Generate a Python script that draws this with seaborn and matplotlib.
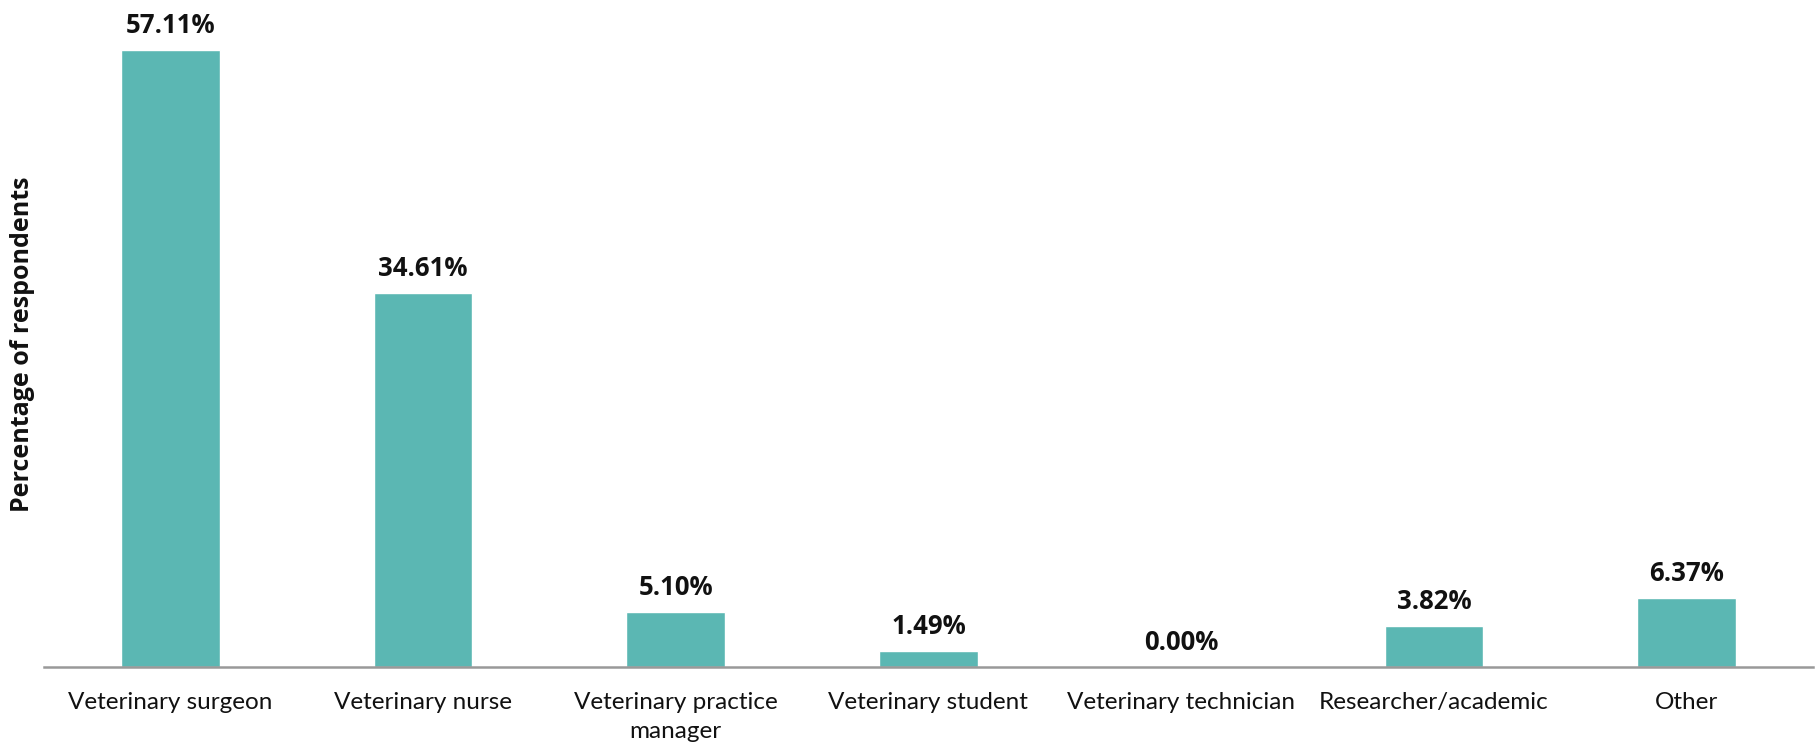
import matplotlib
matplotlib.use("Agg")
import matplotlib.pyplot as plt
import seaborn as sns
import pandas as pd

categories = [
    "Veterinary surgeon",
    "Veterinary nurse",
    "Veterinary practice\nmanager",
    "Veterinary student",
    "Veterinary technician",
    "Researcher/academic",
    "Other",
]
percentages = [57.11, 34.61, 5.10, 1.49, 0.00, 3.82, 6.37]

df = pd.DataFrame({"role": categories, "pct": percentages})

sns.set_theme(style="white")
plt.rcParams["font.family"] = ["Lato", "DejaVu Sans"]

fig = plt.figure(figsize=(18.16, 7.5), dpi=100)
ax = fig.add_axes([0.0242, 0.1107, 0.9741, 0.8893])

sns.barplot(data=df, x="role", y="pct", color="#5BB7B3", saturation=1,
            width=0.39, ax=ax)

ax.set_xlim(-0.5, 6.5)
ax.set_ylim(0, 61.7)

for i, v in enumerate(percentages):
    ax.annotate(f"{v:.2f}%", (i, v), xytext=(0, 8), textcoords="offset points",
                ha="center", va="bottom", fontsize=18.5, fontweight="bold",
                family=["Open Sans", "DejaVu Sans"], color="#111111")

for s in ["top", "right", "left"]:
    ax.spines[s].set_visible(False)
ax.spines["bottom"].set_color("#999999")
ax.spines["bottom"].set_linewidth(1.8)

ax.set_yticks([])
ax.set_xlabel("")
ax.tick_params(axis="x", length=0, pad=18, labelsize=17.5, colors="#111111")
for lbl in ax.get_xticklabels():
    lbl.set_linespacing(1.45)
ax.set_ylabel("")
fig.text(0.0125, 0.541, "Percentage of respondents", rotation=90,
         ha="center", va="center", fontsize=18, fontweight="bold",
         family=["Open Sans", "DejaVu Sans"], color="#111111")

fig.savefig("out.png", dpi=100)
